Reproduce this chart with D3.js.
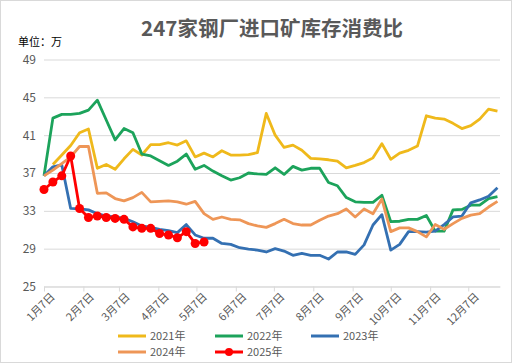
<!DOCTYPE html>
<html>
<head>
<meta charset="utf-8">
<script src="https://cdn.jsdelivr.net/npm/d3@7/dist/d3.min.js"></script>
<style>
  body { margin: 0; background: #fff; }
  svg text { font-family: "Noto Sans CJK SC", "Noto Sans", sans-serif; fill: #595959; }
</style>
</head>
<body>
<div id="chart"></div>
<script>
// weekly observation dates (month-day)
var weeks = ['01-07','01-14','01-21','01-28','02-04','02-11','02-18','02-25',
  '03-04','03-11','03-18','03-25','04-01','04-08','04-15','04-22','04-29',
  '05-06','05-13','05-20','05-27','06-03','06-10','06-17','06-24',
  '07-01','07-08','07-15','07-22','07-29','08-05','08-12','08-19','08-26',
  '09-02','09-09','09-16','09-23','09-30','10-07','10-14','10-21','10-28',
  '11-04','11-11','11-18','11-25','12-02','12-09','12-16','12-23','12-30'];

var data2021 = [null,37.9,38.9,39.9,41.25,41.65,37.5,37.9,37.4,38.5,39.5,38.9,40.0,40.0,40.2,39.95,40.4,
  38.7,39.1,38.7,39.35,38.9,38.9,38.95,39.15,43.3,41.0,39.7,39.95,39.4,38.55,38.5,38.4,38.25,
  37.55,37.8,38.1,38.6,40.1,38.45,39.1,39.4,39.85,43.05,42.8,42.7,42.25,41.7,42.0,42.7,43.75,43.55];
var data2022 = [36.7,42.8,43.2,43.2,43.3,43.65,44.7,42.6,40.5,41.7,41.25,39.0,38.8,38.3,37.8,38.25,39.0,
  37.4,37.8,37.2,36.7,36.25,36.5,37.0,36.9,36.85,37.55,36.85,37.7,37.3,37.5,37.5,36.0,35.65,
  34.4,33.95,33.9,33.9,34.65,31.85,31.9,32.1,32.1,32.5,30.85,30.85,33.1,33.15,33.6,33.6,34.3,34.5];
var data2023 = [36.7,37.65,37.85,33.25,33.2,33.1,32.7,32.45,32.35,32.2,31.85,31.4,31.25,31.05,30.9,30.7,31.55,
  30.45,30.1,30.1,29.55,29.45,29.1,28.95,28.85,28.65,29.0,28.75,28.3,28.5,28.3,28.3,27.9,28.65,
  28.65,28.4,29.4,31.5,32.6,28.85,29.45,30.8,30.8,30.75,30.85,31.55,32.35,32.45,33.85,34.15,34.55,35.45];
var data2024 = [36.7,37.3,38.0,38.7,39.8,39.8,34.85,34.9,34.3,34.05,34.4,34.95,33.95,34.0,34.05,33.95,33.7,
  34.0,32.7,32.1,32.35,32.1,32.05,31.65,31.4,31.25,31.65,32.1,31.65,31.5,31.5,32.0,32.45,32.7,
  33.2,32.35,33.2,32.7,34.25,30.8,31.2,31.2,30.8,30.25,31.55,31.05,31.65,32.2,32.55,32.7,33.4,34.0];
var data2025 = [35.25,36.05,36.7,38.8,33.25,32.3,32.45,32.3,32.2,32.1,31.3,31.15,31.15,30.6,30.45,30.15,30.8,
  29.55,29.7];

var seriesNames = ['2021年','2022年','2023年','2024年','2025年'];
var seriesColors = ['#EFB91B','#1CA35B','#3470B2','#EE9657','#FF0000'];
var monthLabels = ['1月7日','2月7日','3月7日','4月7日','5月7日','6月7日',
  '7月7日','8月7日','9月7日','10月7日','11月7日','12月7日'];
var yTicks = [25,29,33,37,41,45,49];

var allSeries = [data2021, data2022, data2023, data2024, data2025];

var svgW = 512, svgH = 363;
var margin = {top:59.5, right:12, bottom:76.5, left:44};
var height = svgH - margin.top - margin.bottom,
    width = 500 - margin.left;

var parseDay = d3.timeParse('%Y-%m-%d');
var weekDates = weeks.map(function(w){ return parseDay('2021-' + w); });
var tickDates = monthLabels.map(function(m, i){ return new Date(2021, i, 7); });

var xScale = d3.scaleTime()
    .domain([new Date(2021,0,7), new Date(2022,0,1)])
    .range([0, width]);

var yScale = d3.scaleLinear()
    .domain([25,49])
    .range([height, 0]);

var svg = d3.select('#chart').append('svg')
    .attr('width', svgW)
    .attr('height', svgH);

// outer frame
svg.append('rect')
    .attr('x',0.5).attr('y',0.5)
    .attr('width',svgW-1).attr('height',svgH-1)
    .style('fill','none')
    .style('stroke','#d9d9d9');

svg.append('text')
    .attr('x', 272).attr('y', 36)
    .attr('text-anchor','middle')
    .style('font-size','20.5px')
    .style('font-weight','bold')
    .text('247家钢厂进口矿库存消费比');

svg.append('text')
    .attr('x', 18).attr('y', 46)
    .style('font-size','11px')
    .style('fill','#000')
    .text('单位：万');

var g = svg.append('g')
    .attr('transform','translate(' + margin.left + ',' + margin.top + ')');

// horizontal grid
var yAxis = d3.axisLeft(yScale)
    .tickValues(yTicks)
    .tickSize(-width)
    .tickPadding(8);
var yGuide = g.append('g').call(yAxis);
yGuide.select('.domain').remove();
yGuide.selectAll('line').style('stroke','#d9d9d9');
yGuide.selectAll('text')
    .style('font-size','12px')
    .style('fill','#595959');

// bottom axis
var xAxis = d3.axisBottom(xScale)
    .tickValues(tickDates)
    .tickSize(5)
    .tickSizeOuter(0)
    .tickFormat(function(d,i){ return monthLabels[i]; });
var xGuide = g.append('g')
    .attr('transform','translate(0,' + height + ')')
    .call(xAxis);
xGuide.select('.domain').style('stroke','#d9d9d9');
xGuide.selectAll('line').style('stroke','#d9d9d9');
xGuide.selectAll('text')
    .style('font-size','11px')
    .style('fill','#595959')
    .attr('text-anchor','end')
    .attr('transform','translate(4,4) rotate(-45)')
    .attr('dy','0.35em')
    .attr('y',6);

var line = d3.line()
    .defined(function(d){ return d != null; })
    .x(function(d,i){ return xScale(weekDates[i]); })
    .y(function(d){ return yScale(d); });

allSeries.forEach(function(s, k){
  g.append('path')
    .datum(s)
    .attr('d', line)
    .style('fill','none')
    .style('stroke', seriesColors[k])
    .style('stroke-width', 2.8)
    .style('stroke-linejoin','round');
});

// 2025 markers
g.selectAll('circle.m2025')
    .data(data2025)
    .enter().append('circle')
    .attr('class','m2025')
    .attr('cx', function(d,i){ return xScale(weekDates[i]); })
    .attr('cy', function(d){ return yScale(d); })
    .attr('r', 4.5)
    .style('fill', seriesColors[4]);

// legend
var legendPos = [[118,336],[215,336],[311,336],[118,352],[215,352]];
var legend = svg.selectAll('g.leg')
    .data(seriesNames)
    .enter().append('g')
    .attr('class','leg')
    .attr('transform', function(d,i){ return 'translate(' + legendPos[i][0] + ',' + legendPos[i][1] + ')'; });

legend.append('line')
    .attr('x1',0).attr('x2',28)
    .attr('y1',0).attr('y2',0)
    .style('stroke', function(d,i){ return seriesColors[i]; })
    .style('stroke-width',3);

legend.filter(function(d,i){ return i === 4; })
    .append('circle')
    .attr('cx',14).attr('cy',0).attr('r',4)
    .style('fill', seriesColors[4]);

legend.append('text')
    .attr('x',32).attr('y',0)
    .attr('dy','0.35em')
    .style('font-size','11px')
    .text(function(d){ return d; });
</script>
</body>
</html>
